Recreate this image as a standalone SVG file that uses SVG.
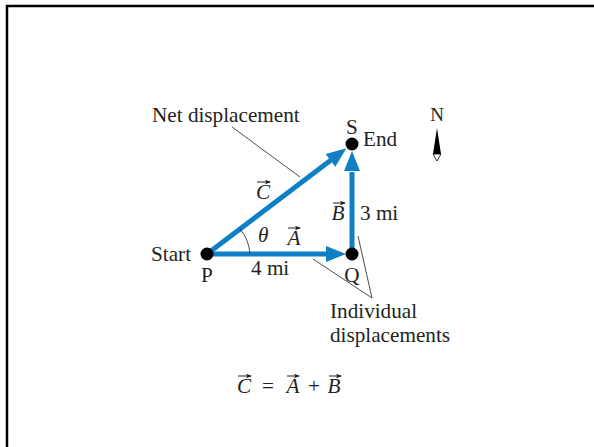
<svg xmlns="http://www.w3.org/2000/svg" width="594" height="447" viewBox="0 0 594 447">
<defs>
<style>
.t{font-family:"Liberation Serif","Times New Roman",serif;font-size:21.2px;fill:#231f20}
.i{font-style:italic}
.v{stroke:#0f7fc6;stroke-width:5;fill:none}
.h{fill:#0f7fc6}
.ld{stroke:#231f20;stroke-width:0.8;fill:none}
.va{stroke:#231f20;stroke-width:1;fill:none}
</style>
<marker id="sa" viewBox="0 0 6 6" refX="5" refY="3" markerWidth="6" markerHeight="6" markerUnits="userSpaceOnUse" orient="auto"><path d="M0,0.8 L6,3 L0,5.2 L1.3,3 Z" fill="#231f20"/></marker>
</defs>
<rect width="594" height="447" fill="#fff"/>
<path d="M7,447 V6 H594" stroke="#000" stroke-width="2.5" fill="none"/>
<g id="connectors">
<path class="v" d="M207,254 L331,160"/>
<polygon class="h" points="346.4,148.2 335.3,166.7 325.7,153.9"/>
<path class="v" d="M207,254 L326,254"/>
<polygon class="h" points="346,254 326,246 326,262"/>
<path class="v" d="M352,254 L352,172"/>
<polygon class="h" points="352,151 344,171 360,171"/>
<path class="ld" d="M232,127 L300,177"/>
<path class="ld" d="M313,259 L372,298 L358,236"/>
<path class="ld" d="M250,254 A43,43 0 0 0 240,229"/>
</g>
<g id="P"><circle cx="207" cy="254" r="6.5" fill="#000"/><text class="t" x="207" y="282" text-anchor="middle">P</text><text class="t" x="151" y="261">Start</text></g>
<g id="Q"><circle cx="352" cy="254" r="6.5" fill="#000"/><text class="t" x="352" y="282" text-anchor="middle">Q</text></g>
<g id="S"><circle cx="352" cy="144" r="6.5" fill="#000"/><text class="t" x="352" y="134" text-anchor="middle">S</text><text class="t" x="363" y="146">End</text></g>
<g id="labels">
<text class="t" x="152" y="122">Net displacement</text>
<text class="t i" x="263" y="199" text-anchor="middle">C</text>
<path class="va" d="M257,182 H270" marker-end="url(#sa)"/>
<text class="t i" x="338" y="220" text-anchor="middle">B</text>
<path class="va" d="M333,203 H345" marker-end="url(#sa)"/>
<text class="t" x="360" y="220">3 mi</text>
<text class="t i" x="258" y="242">θ</text>
<text class="t i" x="294" y="245" text-anchor="middle">A</text>
<path class="va" d="M288,228 H300" marker-end="url(#sa)"/>
<text class="t" x="251" y="275">4 mi</text>
<text class="t" x="330" y="318">Individual</text>
<text class="t" x="330" y="342">displacements</text>
</g>
<g id="compass">
<text class="t" x="437" y="121" text-anchor="middle" style="font-size:19px">N</text>
<polygon points="437,128 441,154 433,154" fill="#000"/>
<polygon points="433,154 441,154 437,161" fill="#fff" stroke="#000" stroke-width="0.8"/>
</g>
<g id="equation">
<text class="t i" x="244" y="393" text-anchor="middle">C</text>
<path class="va" d="M238,376 H251" marker-end="url(#sa)"/>
<text class="t" x="268" y="393" text-anchor="middle">=</text>
<text class="t i" x="293" y="393" text-anchor="middle">A</text>
<path class="va" d="M287,376 H299" marker-end="url(#sa)"/>
<text class="t" x="314" y="393" text-anchor="middle">+</text>
<text class="t i" x="334" y="393" text-anchor="middle">B</text>
<path class="va" d="M329,376 H341" marker-end="url(#sa)"/>
</g>
</svg>
